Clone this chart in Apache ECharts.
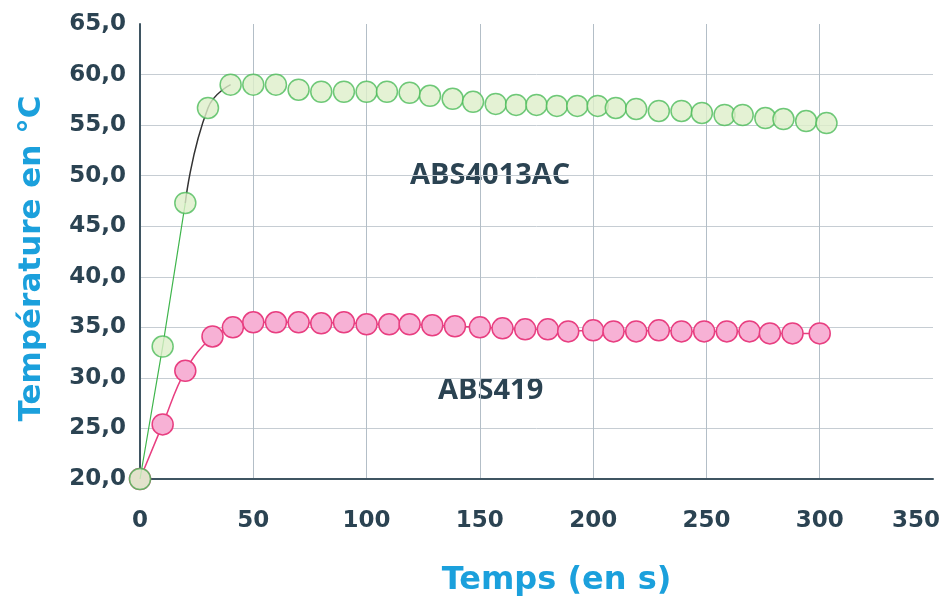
<!DOCTYPE html>
<html>
<head>
<meta charset="utf-8">
<script src="https://cdn.jsdelivr.net/npm/echarts@6/dist/echarts.min.js"></script>
<style>
  html,body{margin:0;padding:0;background:#fff}
  #chart{width:951px;height:603px}
</style>
</head>
<body>
<div id="chart"></div>
<script>
// ---------- données ----------
const tempsABS4013AC = [0,10,20,30,40,50,60,70,80,90,100,109,119,128,138,147,157,166,175,184,193,202,210,219,229,239,248,258,266,276,284,294,303];
const tempABS4013AC  = [20.0,33.1,47.3,56.7,59.0,59.0,59.0,58.5,58.3,58.3,58.3,58.3,58.2,57.9,57.6,57.3,57.1,57.0,57.0,56.9,56.9,56.9,56.7,56.6,56.4,56.4,56.2,56.0,56.0,55.7,55.6,55.4,55.2];

const tempsABS419 = [0,10,20,32,41,50,60,70,80,90,100,110,119,129,139,150,160,170,180,189,200,209,219,229,239,249,259,269,278,288,300];
const tempABS419  = [20.0,25.4,30.7,34.1,35.0,35.5,35.5,35.5,35.4,35.5,35.3,35.3,35.3,35.2,35.1,35.0,34.9,34.8,34.8,34.6,34.7,34.6,34.6,34.7,34.6,34.6,34.6,34.6,34.4,34.4,34.4];

const xTicks = {min:0, max:350, interval:50};
const yTicks = {min:20, max:65, interval:5};

const pts = (xs, ys) => xs.map((x,i)=>[x, ys[i]]);
const green = pts(tempsABS4013AC, tempABS4013AC);
const pink  = pts(tempsABS419, tempABS419);

const dark = '#2b4352';
const blue = '#1ba0dc';
const font = '"DejaVu Sans", sans-serif';
const annFont = 'bold 29px "Open Sans", sans-serif';

const chart = echarts.init(document.getElementById('chart'), null, {renderer:'canvas'});
chart.setOption({
  animation:false,
  grid:{left:140, right:18, top:24, bottom:124, outerBoundsMode:'none', containLabel:false},
  xAxis:{
    type:'value', min:xTicks.min, max:xTicks.max, interval:xTicks.interval,
    name:'Temps (en s)', nameLocation:'middle', nameGap:86,
    nameTextStyle:{color:blue, fontSize:32, fontWeight:'bold', fontFamily:font, padding:[0,0,0,40]},
    axisLine:{show:true, lineStyle:{color:'#3f5562', width:2}},
    axisTick:{show:false},
    axisLabel:{color:dark, fontSize:23, fontWeight:'bold', fontFamily:font, margin:31,
      // dernier libellé décalé vers la gauche pour rester dans le cadre
      formatter:v=> v===xTicks.max ? '{last|'+v+'}' : String(v),
      rich:{last:{color:dark, fontSize:23, fontWeight:'bold', fontFamily:font, padding:[0,34,0,0]}}},
    splitLine:{show:true, showMaxLine:false, lineStyle:{color:'#b3bec7', width:1}}
  },
  yAxis:{
    type:'value', min:yTicks.min, max:yTicks.max, interval:yTicks.interval,
    name:'Température en °C', nameLocation:'middle', nameGap:93,
    nameTextStyle:{color:blue, fontSize:31, fontWeight:'bold', fontFamily:font, padding:[0,14,0,0]},
    axisLine:{show:true, lineStyle:{color:'#3f5562', width:2}},
    axisTick:{show:false},
    axisLabel:{color:dark, fontSize:23, fontWeight:'bold', fontFamily:font, margin:14,
      formatter:v=>v.toFixed(1).replace('.', ',')},
    splitLine:{show:true, showMaxLine:false, lineStyle:{color:'#c6cdd3', width:1}}
  },
  series:[
    { // ABS419
      type:'line', data:pink, smooth:0.4,
      symbol:'circle', symbolSize:21,
      lineStyle:{color:'#e83e80', width:1.5},
      itemStyle:{color:'#f7b1d5', borderColor:'#e83e80', borderWidth:1.5},
      z:2
    },
    { // ABS4013AC : segment vert du début
      type:'line', data:green.slice(0,3), symbol:'none',
      lineStyle:{color:'#3fb54c', width:1.2}, z:3
    },
    { // ABS4013AC : courbe noire
      type:'line', data:green.slice(2,5), symbol:'none', smooth:0.5,
      lineStyle:{color:'#333', width:1.5}, z:3
    },
    { // ABS4013AC : points
      type:'scatter', data:green, symbol:'circle', symbolSize:21,
      itemStyle:{color:'#ddefc9', borderColor:'#4cbb5a', borderWidth:1.5},
      z:4
    }
  ],
  graphic:[
    {type:'text', left:410, top:161, style:{text:'ABS4013AC', fill:dark, font:annFont}},
    {type:'text', left:438, top:376, style:{text:'ABS419', fill:dark, font:annFont}}
  ]
});
</script>
</body>
</html>
